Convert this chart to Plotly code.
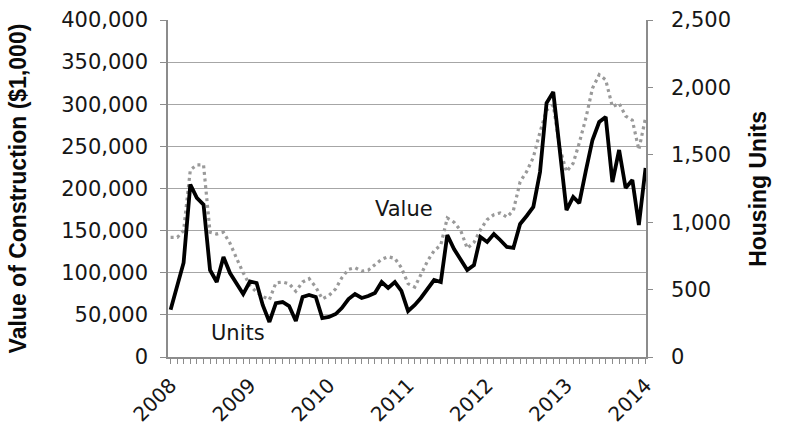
import pandas as pd
import plotly.graph_objects as go

# Monthly series, January 2008 through January 2014
months = pd.date_range("2008-01-01", "2014-01-01", freq="MS")

# Value of construction, in $1,000
value_k = [
    142, 142, 150, 222, 228, 228, 148, 146, 148, 135, 117, 100,
    85, 77, 72, 68, 88, 89, 87, 78, 89, 93, 83, 69,
    73, 81, 94, 104, 106, 102, 103, 110, 116, 119, 117, 106,
    87, 83, 98, 114, 126, 133, 165, 160, 150, 129, 136, 151,
    163, 169, 171, 166, 174, 208, 220, 237, 267, 293, 299, 248,
    220, 230, 254, 284, 319, 335, 329, 297, 301, 286, 281, 246,
    284,
]
value = [v * 1000 for v in value_k]

# Housing units
units = [
    350, 520, 700, 1280, 1180, 1130, 645, 556, 742, 623, 549, 467,
    560, 549, 386, 260, 400, 408, 378, 267, 445, 460, 445, 289,
    297, 319, 363, 430, 467, 438, 452, 475, 556, 512, 556, 490,
    341, 386, 438, 504, 571, 556, 905, 801, 720, 645, 682, 890,
    853, 912, 868, 816, 809, 987, 1046, 1113, 1372, 1884, 1966, 1536,
    1090, 1187, 1142, 1387, 1610, 1743, 1780, 1298, 1536, 1254, 1313, 979,
    1402,
]

years = list(range(2008, 2015))
year_ticks = [pd.Timestamp(f"{y}-01-01") for y in years]
year_text = [str(y) for y in years]

TICK_FONT = dict(family="DejaVu Sans", size=21, color="#161616")
XTICK_FONT = dict(family="DejaVu Sans", size=20, color="#161616")
TITLE_FONT = dict(family="Liberation Sans", size=23, color="#0a0a0a")
GRID = "#a6a6a6"
AXIS = "#8c8c8c"

fig = go.Figure()

fig.add_trace(go.Scatter(
    x=months, y=value, name="Value", yaxis="y",
    mode="lines", line=dict(color="#9a9a9a", width=3.2, dash="3px,3.6px"),
    hoverinfo="skip",
))
fig.add_trace(go.Scatter(
    x=months, y=units, name="Units", yaxis="y2",
    mode="lines", line=dict(color="#000000", width=3.8),
    hoverinfo="skip",
))

fig.update_layout(
    width=785, height=430,
    margin=dict(l=168, r=139, t=20, b=73, autoexpand=False),
    paper_bgcolor="white", plot_bgcolor="white",
    showlegend=False,
    xaxis=dict(
        type="date", automargin=False,
        range=["2007-12-20", "2014-01-03"],
        tickmode="array", tickvals=year_ticks, ticktext=year_text,
        tickangle=-45, tickfont=XTICK_FONT,
        ticks="outside", ticklen=5, tickwidth=1, tickcolor=AXIS,
        ticklabelstandoff=2,
        minor=dict(dtick="M1", ticks="outside", ticklen=5, tickwidth=1,
                   tickcolor=AXIS, showgrid=False),
        showgrid=False, showline=True, linecolor=AXIS, linewidth=1.5,
        zeroline=False,
    ),
    yaxis=dict(
        automargin=False,
        range=[0, 400000], dtick=50000, tick0=0, tickformat=",",
        tickfont=TICK_FONT,
        ticks="outside", ticklen=6, tickwidth=1, tickcolor=AXIS,
        ticklabelstandoff=8,
        showgrid=True, gridcolor=GRID, gridwidth=1.3,
        showline=True, linecolor=AXIS, linewidth=1.5,
        zeroline=False,
    ),
    yaxis2=dict(
        automargin=False,
        overlaying="y", side="right",
        range=[0, 2500], dtick=500, tick0=0, tickformat=",",
        tickfont=TICK_FONT,
        ticks="outside", ticklen=5, tickwidth=1, tickcolor=AXIS,
        ticklabelstandoff=14,
        showgrid=False,
        showline=True, linecolor=AXIS, linewidth=1.5,
        zeroline=False,
    ),
    annotations=[
        dict(text="<b>Value of Construction ($1,000)</b>", textangle=-90,
             xref="paper", yref="paper", x=-0.314, y=0.5,
             xanchor="center", yanchor="middle", showarrow=False,
             font=TITLE_FONT),
        dict(text="<b>Housing Units</b>", textangle=-90,
             xref="paper", yref="paper", x=1.233, y=0.5,
             xanchor="center", yanchor="middle", showarrow=False,
             font=TITLE_FONT),
        dict(text="Value", x=pd.Timestamp("2010-12-15"), y=176000,
             xref="x", yref="y", showarrow=False,
             xanchor="center", yanchor="middle", font=TICK_FONT),
        dict(text="Units", x=pd.Timestamp("2008-11-05"), y=28500,
             xref="x", yref="y", showarrow=False,
             xanchor="center", yanchor="middle", font=TICK_FONT),
    ],
)

fig.write_html("out.html")
